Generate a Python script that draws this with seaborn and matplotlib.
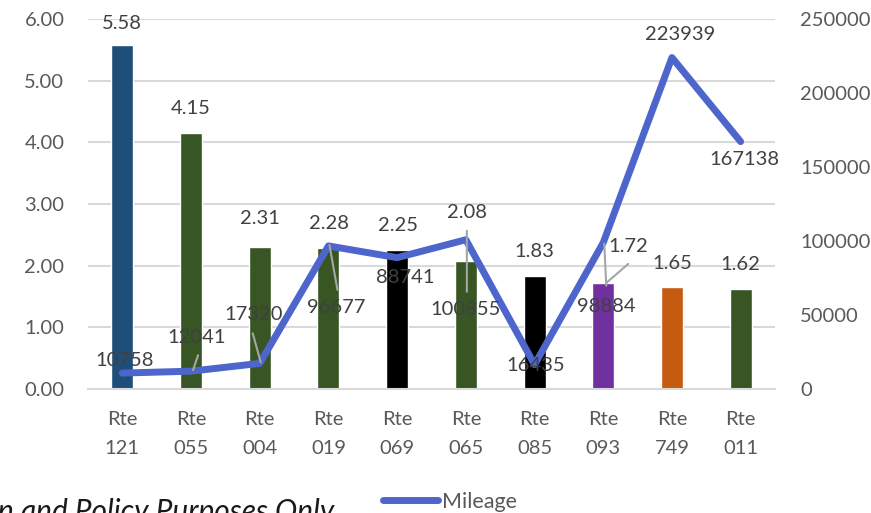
import numpy as np
import pandas as pd
import matplotlib
matplotlib.use("Agg")
import matplotlib.pyplot as plt
from matplotlib.transforms import offset_copy
from matplotlib.lines import Line2D
import seaborn as sns

# ---- data ----
routes = ["Rte\n121", "Rte\n055", "Rte\n004", "Rte\n019", "Rte\n069",
          "Rte\n065", "Rte\n085", "Rte\n093", "Rte\n749", "Rte\n011"]
rates = [5.58, 4.15, 2.31, 2.28, 2.25, 2.08, 1.83, 1.72, 1.65, 1.62]
mileage = [10758, 12041, 17320, 96677, 88741, 100855, 16435, 98884, 223939, 167138]
bar_colors = ["#1F4E79", "#375623", "#375623", "#375623", "#000000",
              "#375623", "#000000", "#7030A0", "#C55A11", "#375623"]
left_ticks = [0, 1, 2, 3, 4, 5, 6]
right_ticks = [0, 50000, 100000, 150000, 200000, 250000]
series_name = "Mileage"
footer = "n and Policy Purposes Only"

sns.set_theme(style="white")
plt.rcParams["font.family"] = ["Lato", "DejaVu Sans"]

W, H, DPI = 871, 513, 100
FS = 14.5
fig = plt.figure(figsize=(W / DPI, H / DPI), dpi=DPI)
ax = fig.add_axes([88 / W, 1 - 389 / H, (775 - 88) / W, (389 - 19) / H])

df = pd.DataFrame({"route": routes, "rate": rates, "mileage": mileage})
sns.barplot(data=df, x="route", y="rate", hue="route", palette=bar_colors,
            legend=False, width=0.32, saturation=1, ax=ax)
ax.set_xlim(-0.5, len(routes) - 0.5)
ax.set_ylim(0, 6)
ax.set_yticks(left_ticks)
ax.set_yticklabels([f"{t:.2f}" for t in left_ticks])
ax.set_xticks(range(len(routes)))
ax.set_xticklabels(routes, linespacing=1.9)
ax.set_xlabel("")
ax.set_ylabel("")
ax.grid(axis="y", color="#D9D9D9", lw=1.5)
ax.set_axisbelow(True)
for s in ["top", "left", "right"]:
    ax.spines[s].set_visible(False)
ax.spines["bottom"].set_color("#D9D9D9")
ax.spines["bottom"].set_linewidth(1.5)
tick_color = "#595959"
ax.tick_params(axis="y", length=0, pad=17, labelsize=FS, labelcolor=tick_color)
ax.tick_params(axis="x", length=0, pad=15.5, labelsize=FS, labelcolor=tick_color)

ax2 = ax.twinx()
line_color = "#4E66CC"
sns.lineplot(x=np.arange(len(routes)), y=mileage, ax=ax2, color=line_color,
             lw=5, solid_capstyle="round", solid_joinstyle="round", legend=False)
ax2.set_ylim(0, 250000)
ax2.set_yticks(right_ticks)
ax2.set_yticklabels([str(t) for t in right_ticks])
ax2.set_ylabel("")
for s in ["top", "left", "right", "bottom"]:
    ax2.spines[s].set_visible(False)
ax2.tick_params(axis="y", length=0, pad=18, labelsize=FS, labelcolor=tick_color)
ax2.grid(False)

lab_color = "#404040"
# bar labels: (dx, dy) pixel offsets from bar top to label center
bar_off = [(0, 21), (0, 25), (0, 28), (1, 25), (1, 25), (1, 48), (0, 25), (25, 36), (0, 24), (0, 25)]
for i, (v, (dx, dy)) in enumerate(zip(rates, bar_off)):
    ax.annotate(f"{v:.2f}", xy=(i, v), xytext=(dx, dy), textcoords="offset pixels",
                ha="center", va="center", fontsize=FS, color=lab_color)

line_off = [(2, 13), (6, 34), (-6, 49), (8, -62), (8, -20), (0, -70), (1, -1), (3, -64), (8, 23), (4, -18)]
for i, (v, (dx, dy)) in enumerate(zip(mileage, line_off)):
    ax2.annotate(f"{v}", xy=(i, v), xytext=(dx, dy), textcoords="offset pixels",
                 ha="center", va="center", fontsize=FS, color=lab_color, zorder=5)

def leader(a, i, v, p1, p2):
    t1 = offset_copy(a.transData, fig, x=p1[0], y=p1[1], units="dots")
    t2 = offset_copy(a.transData, fig, x=p2[0], y=p2[1], units="dots")
    a.annotate("", xy=(i, v), xycoords=t1, xytext=(i, v), textcoords=t2,
               arrowprops=dict(arrowstyle="-", color="#A6A6A6", lw=1.5,
                               shrinkA=0, shrinkB=0))

leader(ax2, 1, mileage[1], (7, 16), (2, 1))
leader(ax2, 2, mileage[2], (-7, 30), (1, 1))
leader(ax2, 3, mileage[3], (1, 1), (9, -44))
leader(ax2, 5, mileage[5], (1, 9), (1, -52))
leader(ax2, 7, mileage[7], (1, -1), (3, -43))
leader(ax, 7, rates[7], (25, 19), (3, 0))

handle = Line2D([], [], color=line_color, lw=5, solid_capstyle="round")
fig.legend(handles=[handle], labels=[series_name], loc="center left",
           bbox_to_anchor=(383 / W, 1 - 502 / H), frameon=False, borderpad=0,
           borderaxespad=0, handlelength=2.55, handletextpad=0.2, fontsize=15.5,
           labelcolor=tick_color)

fig.text(334 / W, 1 - 521 / H, footer, ha="right", va="baseline",
         fontsize=21.5, style="italic", color="#1A1A1A")

fig.savefig("out.png", dpi=DPI)
